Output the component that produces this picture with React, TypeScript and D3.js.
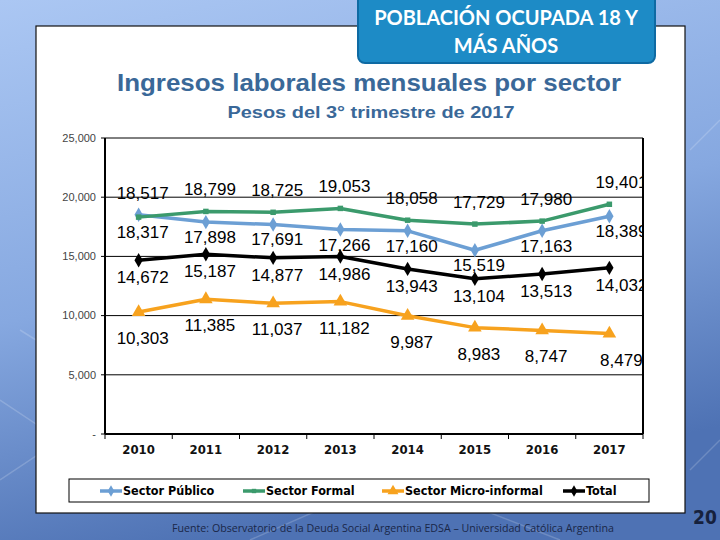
import React from 'react';
import * as d3 from 'd3';

const years = ['2010', '2011', '2012', '2013', '2014', '2015', '2016', '2017'];
const publico = [18517, 17898, 17691, 17266, 17160, 15519, 17163, 18389];
const formal = [18317, 18799, 18725, 19053, 18058, 17729, 17980, 19401];
const micro = [10303, 11385, 11037, 11182, 9987, 8983, 8747, 8479];
const total = [14672, 15187, 14877, 14986, 13943, 13104, 13513, 14032];
const yTicks = [0, 5000, 10000, 15000, 20000, 25000];

const series = [
  { name: 'Sector Público', values: publico, color: '#6c9fd4', marker: 'diamond' },
  { name: 'Sector Formal', values: formal, color: '#3b9a6c', marker: 'square' },
  { name: 'Sector Micro-informal', values: micro, color: '#f7a21e', marker: 'triangle' },
  { name: 'Total', values: total, color: '#000000', marker: 'diamond' },
];

const W = 720;
const H = 540;
const plot = { left: 105, right: 643, top: 138, bottom: 434 };
const fmt = d3.format(',');

const App: React.FC = () => {
  const x = d3.scaleBand<string>().domain(years).range([plot.left, plot.right]);
  const y = d3.scaleLinear().domain([0, 25000]).range([plot.bottom, plot.top]);
  const cx = (i: number) => (x(years[i]) as number) + x.bandwidth() / 2;

  const line = (vals: number[]) =>
    d3.line<number>().x((_, i) => cx(i)).y(d => y(d))(vals) as string;

  const markerPath = (kind: string) => {
    if (kind === 'square') return d3.symbol(d3.symbolSquare, 30)() as string;
    if (kind === 'triangle') return d3.symbol(d3.symbolTriangle, 80)() as string;
    return d3.symbol(d3.symbolDiamond, 60)() as string;
  };

  // label placement: higher of Público/Formal goes above, the rest below
  const labelY = (si: number, i: number) => {
    const v = series[si].values[i];
    if (si === 0 || si === 1) {
      const other = series[1 - si].values[i];
      return v >= other ? y(v) - 22 : y(v) + 15;
    }
    if (si === 2) return y(v) + 26;
    return y(v) + 17;
  };
  const labelDx = (i: number) => (i === years.length - 1 ? 12 : 4);

  const legendX = [100, 243, 382, 563];

  return (
    <svg width={W} height={H} viewBox={`0 0 ${W} ${H}`}
      style={{ position: 'absolute', left: 0, top: 0, display: 'block' }}>
      <defs>
        <linearGradient id="bg" x1="0" y1="0" x2="0.3" y2="1">
          <stop offset="0" stopColor="#abc7f3" />
          <stop offset="0.55" stopColor="#86a8e0" />
          <stop offset="1" stopColor="#4e72b4" />
        </linearGradient>
        <clipPath id="plotClip">
          <rect x={plot.left - 40} y={plot.top - 60} width={plot.right - plot.left + 40} height={plot.bottom - plot.top + 60} />
        </clipPath>
      </defs>
      <rect x={0} y={0} width={W} height={H} fill="url(#bg)" />
      <g stroke="#ffffff" strokeOpacity={0.18} strokeWidth={1.5} fill="none">
        <path d="M0,400 L60,440 L0,480" />
        <path d="M690,150 L720,120" />
        <path d="M690,470 L720,440" />
        <path d="M250,540 L330,505" />
        <path d="M470,505 L560,540" />
        <path d="M20,330 L36,340" />
      </g>

      {/* white panel */}
      <rect x={36} y={26} width={649} height={487} fill="#ffffff" stroke="#111" strokeWidth={1.2} />

      {/* header box */}
      <rect x={358} y={-8} width={297} height={71} rx={7} fill="#1d8bc6" stroke="#0e6aa3" strokeWidth={2} />
      <text x={506} y={25} textAnchor="middle" fill="#ffffff" fontFamily="Lato, 'Open Sans', sans-serif"
        fontWeight="bold" fontSize={20}>POBLACIÓN OCUPADA 18 Y</text>
      <text x={506} y={53} textAnchor="middle" fill="#ffffff" fontFamily="Lato, 'Open Sans', sans-serif"
        fontWeight="bold" fontSize={20}>MÁS AÑOS</text>

      {/* titles */}
      <text x={369} y={91} textAnchor="middle" fill="#3a6898" fontFamily="'Liberation Sans', Arial, sans-serif"
        fontWeight="bold" fontSize={24} textLength={504} lengthAdjust="spacingAndGlyphs">
        Ingresos laborales mensuales por sector
      </text>
      <text x={371} y={118} textAnchor="middle" fill="#3a6898" fontFamily="'Liberation Sans', Arial, sans-serif"
        fontWeight="bold" fontSize={17} textLength={287} lengthAdjust="spacingAndGlyphs">
        Pesos del 3° trimestre de 2017
      </text>

      {/* grid + y axis */}
      <g fontFamily="'Liberation Sans', Arial, sans-serif" fontSize={11} fill="#444">
        {yTicks.map(t => (
          <g key={t}>
            <line x1={plot.left - 4} x2={plot.right} y1={y(t)} y2={y(t)} stroke="#000" strokeWidth={1} />
            <text x={96} y={y(t)} dy="0.35em" textAnchor="end">{t === 0 ? '-' : fmt(t)}</text>
          </g>
        ))}
      </g>
      <line x1={plot.left} x2={plot.left} y1={plot.top} y2={plot.bottom} stroke="#000" strokeWidth={2} />
      <line x1={plot.right} x2={plot.right} y1={plot.top} y2={plot.bottom} stroke="#000" strokeWidth={2} />
      <line x1={plot.left} x2={plot.right} y1={plot.bottom} y2={plot.bottom} stroke="#000" strokeWidth={2} />

      {/* x axis */}
      <g>
        {years.map(yr => (
          <line key={'t' + yr} x1={x(yr) as number} x2={x(yr) as number} y1={plot.bottom} y2={plot.bottom + 5} stroke="#000" />
        ))}
        <line x1={plot.right} x2={plot.right} y1={plot.bottom} y2={plot.bottom + 5} stroke="#000" />
        {years.map((yr, i) => (
          <text key={yr} x={cx(i)} y={454} textAnchor="middle" fontFamily="'DejaVu Sans Condensed', 'Liberation Sans', sans-serif"
            fontWeight="bold" fontSize={13} fill="#111">{yr}</text>
        ))}
      </g>

      {/* series */}
      {series.map(s => (
        <g key={s.name}>
          <path d={line(s.values)} fill="none" stroke={s.color} strokeWidth={3.5} strokeLinejoin="round" />
          {s.values.map((v, i) => (
            <path key={i} d={markerPath(s.marker)} transform={`translate(${cx(i)},${y(v)})`} fill={s.color} />
          ))}
        </g>
      ))}

      {/* data labels */}
      <g clipPath="url(#plotClip)" fontFamily="'Liberation Sans', Arial, sans-serif" fontSize={17} fill="#000">
        {series.map((s, si) =>
          s.values.map((v, i) => (
            <text key={s.name + i} x={cx(i) + labelDx(i)} y={labelY(si, i)} dy="0.35em" textAnchor="middle">
              {fmt(v)}
            </text>
          ))
        )}
      </g>

      {/* legend */}
      <rect x={69} y={479} width={580} height={23} fill="#fff" stroke="#000" strokeWidth={1} />
      {series.map((s, i) => (
        <g key={s.name} transform={`translate(${legendX[i]},491)`}>
          <line x1={0} x2={22} y1={0} y2={0} stroke={s.color} strokeWidth={3.5} />
          <path d={markerPath(s.marker)} transform="translate(11,0) scale(0.8)" fill={s.color} />
          <text x={23} y={0} dy="0.35em" fontFamily="'DejaVu Sans Condensed', 'Liberation Sans', sans-serif"
            fontWeight="bold" fontSize={12.5} fill="#000">{s.name}</text>
        </g>
      ))}

      {/* footer */}
      <text x={393} y={532} textAnchor="middle" fontFamily="'Open Sans', sans-serif" fontSize={11} fill="#1a2748"
        textLength={442} lengthAdjust="spacingAndGlyphs">
        Fuente: Observatorio de la Deuda Social Argentina EDSA – Universidad Católica Argentina
      </text>
      <text x={705} y={524} textAnchor="middle" fontFamily="'DejaVu Sans Condensed', sans-serif" fontWeight="bold"
        fontSize={19} fill="#16213d">20</text>
    </svg>
  );
};

export default App;
